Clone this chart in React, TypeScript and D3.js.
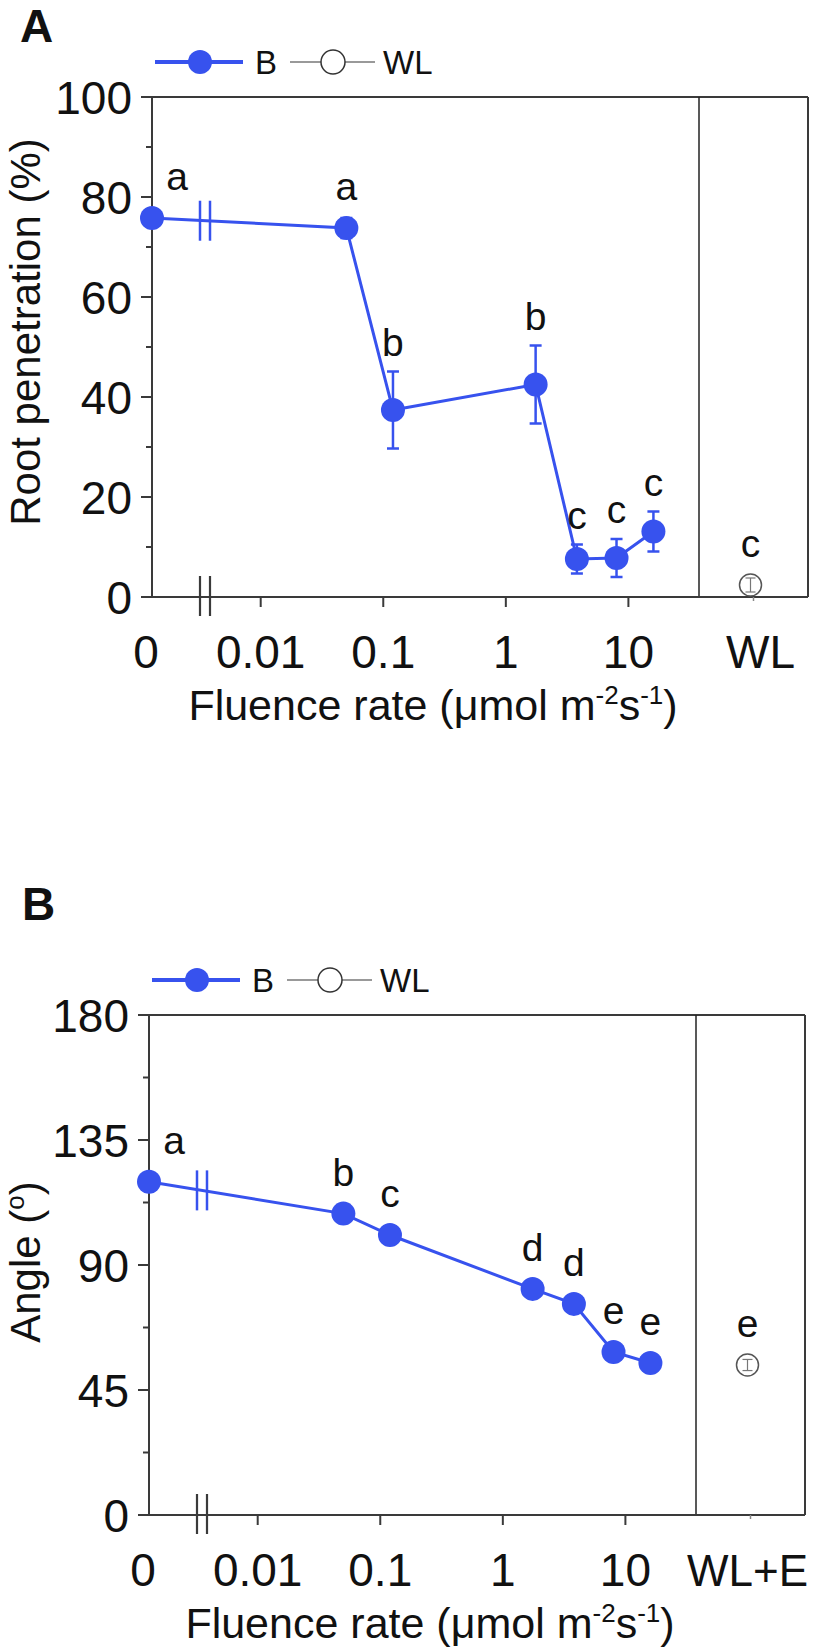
import React from 'react';
import * as d3 from 'd3';

// fluence rates (µmol m-2 s-1) for the blue-light series; 0 = dark
const fluence = [0, 0.05, 0.12, 1.75, 3.8, 8, 16];
const xTickValues = [0.01, 0.1, 1, 10];
const xTickLabels = ['0.01', '0.1', '1', '10'];

// panel A: root penetration (%)
const penetration = [75.8, 73.8, 37.4, 42.5, 7.6, 7.8, 13.1];
const penetrationErr = [1.6, 2.0, 7.7, 7.8, 2.9, 3.8, 4.0];
const penetrationLetters = ['a', 'a', 'b', 'b', 'c', 'c', 'c'];
const wlPenetration = 2.4;
const wlPenetrationErr = 1.4;
const wlPenetrationLetter = 'c';
const penetrationTicks = [0, 20, 40, 60, 80, 100];
const penetrationMinor = [10, 30, 50, 70, 90];

// panel B: angle (°)
const angle = [120.0, 108.5, 100.8, 81.4, 76.0, 58.7, 54.7];
const angleErr = [1.5, 1.5, 1.5, 1.5, 1.5, 1.5, 1.5];
const angleLetters = ['a', 'b', 'c', 'd', 'd', 'e', 'e'];
const wlAngle = 54.0;
const wlAngleErr = 2.0;
const wlAngleLetter = 'e';
const angleTicks = [0, 45, 90, 135, 180];
const angleMinor = [22.5, 67.5, 112.5, 157.5];

const BLUE = '#3752ee';
const AXIS = '#3a3a3a';
const FONT = '"Liberation Sans", Arial, Helvetica, sans-serif';

const Panel = ({ tx, ty, values, errs, letters, wl, wlErr, wlLetter, yMax, yTicks, yMinor, yTitle, yTitleY, wlText, wlTextDx, wlTextSize }) => {
  const left = 152, top = 97, bottom = 597, divider = 699, right = 808;
  const x = d3.scaleLog().domain([0.01, 10]).range([260.7, 628.4]);
  const xp = (v) => (v === 0 ? left : x(v));
  const y = d3.scaleLinear().domain([0, yMax]).range([bottom, top]);
  const xWL = (divider + right) / 2;
  const breakX = 205;
  const r = 12;

  const pts = fluence.map((f, i) => [xp(f), y(values[i])]);
  const path = d3.line()(pts);
  const breakY = d3.interpolateNumber(pts[0][1], pts[1][1])((breakX - pts[0][0]) / (pts[1][0] - pts[0][0]));

  const labelY = (v, e) => Math.min(y(v + e), y(v) - r) - 16;

  return (
    <g transform={`translate(${tx},${ty})`} fontFamily={FONT}>
      {/* legend */}
      <line x1={155} x2={243} y1={62} y2={62} stroke={BLUE} strokeWidth={4} />
      <circle cx={200} cy={62} r={r} fill={BLUE} />
      <text x={255} y={74} fontSize={33} fill="#111">B</text>
      <line x1={290} x2={375} y1={62} y2={62} stroke="#777" strokeWidth={1.5} />
      <circle cx={333} cy={62} r={12} fill="#fff" stroke="#333" strokeWidth={1.5} />
      <text x={383} y={74} fontSize={33} fill="#111">WL</text>

      {/* frame */}
      <line x1={left} x2={right} y1={top} y2={top} stroke={AXIS} strokeWidth={2} />
      <line x1={right} x2={right} y1={top} y2={bottom} stroke={AXIS} strokeWidth={2} />
      <line x1={divider} x2={divider} y1={top} y2={bottom} stroke="#222" strokeWidth={1.5} />
      <line x1={left} x2={left} y1={top} y2={bottom} stroke={AXIS} strokeWidth={2} />
      <line x1={left} x2={right} y1={bottom} y2={bottom} stroke={AXIS} strokeWidth={2} />

      {/* y ticks */}
      {yTicks.map((t) => (
        <g key={'yt' + t}>
          <line x1={left - 11} x2={left} y1={y(t)} y2={y(t)} stroke={AXIS} strokeWidth={2} />
          <text x={left - 20} y={y(t)} dy="0.36em" textAnchor="end" fontSize={46} fill="#111">{t}</text>
        </g>
      ))}
      {yMinor.map((t) => (
        <line key={'ym' + t} x1={left - 6} x2={left} y1={y(t)} y2={y(t)} stroke={AXIS} strokeWidth={2} />
      ))}
      <text transform={`translate(${40 - tx},${yTitleY}) rotate(-90)`} textAnchor="middle" fontSize={42} fill="#111">{yTitle}</text>

      {/* x ticks */}
      {xTickValues.map((t, i) => (
        <g key={'xt' + t}>
          <line x1={x(t)} x2={x(t)} y1={bottom} y2={bottom + 10} stroke={AXIS} strokeWidth={2} />
          <text x={x(t)} y={668} textAnchor="middle" fontSize={46} fill="#111">{xTickLabels[i]}</text>
        </g>
      ))}
      <line x1={xWL} x2={xWL} y1={bottom} y2={bottom + 4} stroke="#888" strokeWidth={1.5} />
      <text x={left - 6} y={668} textAnchor="middle" fontSize={46} fill="#111">0</text>
      <text x={xWL + wlTextDx} y={668} textAnchor="middle" fontSize={wlTextSize} fill="#111">{wlText}</text>
      {[-5, 5].map((d) => (
        <line key={'ab' + d} x1={breakX + d} x2={breakX + d} y1={bottom - 21} y2={bottom + 19} stroke={AXIS} strokeWidth={2.2} />
      ))}
      <text x={433} y={720} textAnchor="middle" fontSize={43} fill="#111">
        Fluence rate (μmol m<tspan fontSize={26} dy={-16}>-2</tspan><tspan dy={16}>s</tspan><tspan fontSize={26} dy={-16}>-1</tspan><tspan dy={16}>)</tspan>
      </text>

      {/* data */}
      <path d={path} fill="none" stroke={BLUE} strokeWidth={3} />
      {[-5, 5].map((d) => (
        <line key={'db' + d} x1={breakX + d} x2={breakX + d} y1={breakY - 20} y2={breakY + 20} stroke={BLUE} strokeWidth={2.5} />
      ))}
      {fluence.map((f, i) => {
        const cx = xp(f);
        const y1 = y(values[i] + errs[i]);
        const y2 = y(values[i] - errs[i]);
        return (
          <g key={'p' + i}>
            <line x1={cx} x2={cx} y1={y1} y2={y2} stroke={BLUE} strokeWidth={2.5} />
            <line x1={cx - 6} x2={cx + 6} y1={y1} y2={y1} stroke={BLUE} strokeWidth={2.5} />
            <line x1={cx - 6} x2={cx + 6} y1={y2} y2={y2} stroke={BLUE} strokeWidth={2.5} />
            <circle cx={cx} cy={y(values[i])} r={r} fill={BLUE} />
            <text x={f === 0 ? cx + 25 : cx} y={labelY(values[i], errs[i])} textAnchor="middle" fontSize={39} fill="#111">{letters[i]}</text>
          </g>
        );
      })}
      <g>
        <circle cx={xWL - 3} cy={y(wl)} r={11} fill="#fff" stroke="#555" strokeWidth={1.5} />
        <line x1={xWL - 3} x2={xWL - 3} y1={y(wl + wlErr)} y2={y(wl - wlErr)} stroke="#777" strokeWidth={1.2} />
        <line x1={xWL - 8} x2={xWL + 2} y1={y(wl + wlErr)} y2={y(wl + wlErr)} stroke="#777" strokeWidth={1.2} />
        <line x1={xWL - 8} x2={xWL + 2} y1={y(wl - wlErr)} y2={y(wl - wlErr)} stroke="#777" strokeWidth={1.2} />
        <text x={xWL - 3} y={labelY(wl, wlErr)} textAnchor="middle" fontSize={39} fill="#111">{wlLetter}</text>
      </g>
    </g>
  );
};

export default function App() {
  return (
    <svg width={814} height={1650} style={{ position: 'absolute', left: 0, top: 0, background: '#fff' }}>
      <rect width={814} height={1650} fill="#fff" />
      <text x={20} y={42} fontSize={46} fontWeight="bold" fontFamily={FONT} fill="#111">A</text>
      <text x={22} y={920} fontSize={46} fontWeight="bold" fontFamily={FONT} fill="#111">B</text>
      <Panel
        tx={0} ty={0}
        values={penetration} errs={penetrationErr} letters={penetrationLetters}
        wl={wlPenetration} wlErr={wlPenetrationErr} wlLetter={wlPenetrationLetter}
        yMax={100} yTicks={penetrationTicks} yMinor={penetrationMinor}
        yTitle="Root penetration (%)" yTitleY={332} wlText="WL" wlTextDx={7} wlTextSize={46}
      />
      <Panel
        tx={-3} ty={918}
        values={angle} errs={angleErr} letters={angleLetters}
        wl={wlAngle} wlErr={wlAngleErr} wlLetter={wlAngleLetter}
        yMax={180} yTicks={angleTicks} yMinor={angleMinor}
        yTitle={<>Angle (<tspan fontSize={26} dy={-16}>o</tspan><tspan dy={16}>)</tspan></>}
        yTitleY={344} wlText="WL+E" wlTextDx={-3} wlTextSize={44}
      />
    </svg>
  );
}
